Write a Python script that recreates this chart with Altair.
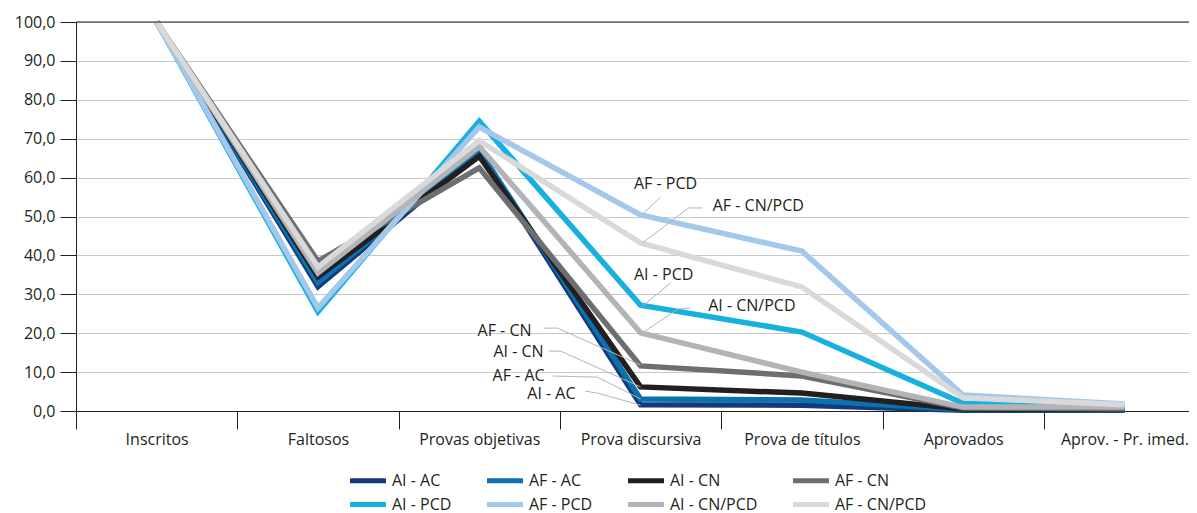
import json
import altair as alt
import pandas as pd

categories = ["Inscritos", "Faltosos", "Provas objetivas", "Prova discursiva",
              "Prova de títulos", "Aprovados", "Aprov. - Pr. imed."]
series = ["AI - AC", "AF - AC", "AI - CN", "AF - CN",
          "AI - PCD", "AF - PCD", "AI - CN/PCD", "AF - CN/PCD"]
colors = ["#143a7c", "#0a72ae", "#231f20", "#6d6e71",
          "#17b0df", "#a3c8eb", "#b3b4b7", "#d9d9da"]

ai_ac = [100, 32.0, 66.5, 1.6, 1.5, 0.2, 0.2]
af_ac = [100, 33.0, 67.0, 3.1, 2.8, 0.4, 0.3]
ai_cn = [100, 34.5, 65.5, 6.2, 4.6, 0.5, 0.4]
af_cn = [100, 38.5, 62.5, 11.6, 9.0, 0.8, 0.6]
ai_pcd = [100, 25.5, 74.5, 27.2, 20.3, 2.0, 1.2]
af_pcd = [100, 26.5, 73.0, 50.4, 41.1, 4.1, 1.8]
ai_cnpcd = [100, 35.5, 68.0, 20.1, 10.0, 1.0, 1.0]
af_cnpcd = [100, 37.0, 69.5, 43.2, 31.9, 3.4, 1.6]
values = [ai_ac, af_ac, ai_cn, af_cn, ai_pcd, af_pcd, ai_cnpcd, af_cnpcd]

y_ticks = [0, 10, 20, 30, 40, 50, 60, 70, 80, 90, 100]

# annotation labels (x in category-index units, y in %)
ann_text = ["AF - PCD", "AF - CN/PCD", "AI - PCD", "AI - CN/PCD",
            "AF - CN", "AI - CN", "AF - AC", "AI - AC"]
ann_x = [3.155, 3.73, 3.143, 3.69, 2.324, 2.399, 2.405, 2.597]
ann_y = [58.4, 52.7, 35.0, 27.0, 20.6, 15.2, 9.0, 4.4]
ann_align = ["center", "center", "center", "center", "right", "right", "right", "right"]

# leader lines
lead_id = [0, 0, 1, 1, 1, 2, 2, 3, 3, 3, 4, 4, 4, 5, 5, 5, 6, 6, 6, 7, 7, 7]
lead_x = [3.124, 3.012, 3.384, 3.298, 3.012, 3.186, 3.012, 3.310, 3.229, 3.012,
          2.399, 2.485, 3.0, 2.430, 2.504, 3.0, 2.454, 2.733, 3.0, 2.659, 2.733, 3.0]
lead_y = [55.0, 50.6, 52.2, 52.2, 43.2, 32.9, 27.0, 26.5, 26.2, 20.1,
          21.3, 21.3, 11.8, 15.4, 15.4, 6.2, 9.0, 8.7, 3.1, 5.1, 4.6, 1.5]

FONT = "Open Sans"
TXT = "#231f20"
W, H = 1113, 389
XMAX = 6.4                       # last band is cut by the right edge, as in the reference
band = W / (XMAX + 0.5)

rows = []
for s, vals in zip(series, values):
    for i, v in enumerate(vals):
        rows.append({"series": s, "idx": i, "value": v})
df = pd.DataFrame(rows)

ann_df = pd.DataFrame({"text": ann_text, "x": ann_x, "y": ann_y, "al": ann_align})
lead_df = pd.DataFrame({"id": lead_id, "x": lead_x, "y": lead_y,
                        "ord": list(range(len(lead_x)))})

xscale = alt.Scale(domain=[-0.5, XMAX], nice=False, zero=False)
yscale = alt.Scale(domain=[0, 100], nice=False)
cscale = alt.Scale(domain=series, range=colors)

label_expr = json.dumps(categories) + "[datum.value + 0.5] || ''"
x_axis = alt.Axis(values=[i - 0.5 for i in range(len(categories))],
                  labelExpr=label_expr, labelOffset=band / 2, labelFlush=False,
                  labelOverlap=False, labelBound=False, labelAlign="center",
                  tickSize=18, tickColor="#231f20", domainColor="#231f20",
                  labelPadding=2, labelFontSize=16, labelFont=FONT, labelColor=TXT,
                  grid=False, title=None)
y_axis = alt.Axis(values=y_ticks,
                  labelExpr="replace(format(datum.value, '.1f'), '.', ',')",
                  tickSize=16, tickColor="#231f20", domainColor="#231f20",
                  labelPadding=5, labelFontSize=16, labelFont=FONT, labelColor=TXT,
                  labelOverlap=False,
                  grid=True, gridColor="#c8c8c8", gridWidth=1, title=None)

X = lambda f: alt.X(f, scale=xscale, axis=x_axis)
Y = lambda f: alt.Y(f, scale=yscale, axis=y_axis)

top_rule = alt.Chart(pd.DataFrame({"v": [100]})).mark_rule(
    color="#231f20", strokeWidth=1).encode(y=Y("v:Q"))

legend = alt.Legend(
    title=None, orient="none", legendX=274, legendY=450,
    columns=4, direction="horizontal", columnPadding=25, rowPadding=3,
    symbolType="M-3,0H3", symbolSize=144, symbolStrokeWidth=5,
    symbolOffset=9.5, labelOffset=15.5,
    labelFontSize=16, labelFont=FONT, labelColor=TXT)

layers = []
for s in series:
    layers.append(
        alt.Chart(df[df["series"] == s]).mark_line(
            strokeWidth=5.5, strokeJoin="miter", strokeCap="butt"
        ).encode(
            x=X("idx:Q"),
            y=Y("value:Q"),
            color=alt.Color("series:N", scale=cscale, legend=legend),
        )
    )
layers.append(top_rule)

leaders = alt.Chart(lead_df).mark_line(color="#b5b5b5", strokeWidth=1).encode(
    x=X("x:Q"), y=Y("y:Q"), detail="id:N", order="ord:Q")
labels_c = alt.Chart(ann_df[ann_df["al"] == "center"]).mark_text(
    font=FONT, fontSize=16, color=TXT, baseline="middle", align="center").encode(
    x=X("x:Q"), y=Y("y:Q"), text="text:N")
labels_r = alt.Chart(ann_df[ann_df["al"] == "right"]).mark_text(
    font=FONT, fontSize=16, color=TXT, baseline="middle", align="right").encode(
    x=X("x:Q"), y=Y("y:Q"), text="text:N")

chart = alt.layer(*layers, leaders, labels_c, labels_r).properties(
    width=W, height=H,
    autosize=alt.AutoSizeParams(type="none"),
    padding={"left": 68, "top": 14, "right": 0, "bottom": 102},
).configure_view(stroke=None).configure(background="white")

chart.save("out.html", embed_options={"renderer": "svg", "actions": False})
